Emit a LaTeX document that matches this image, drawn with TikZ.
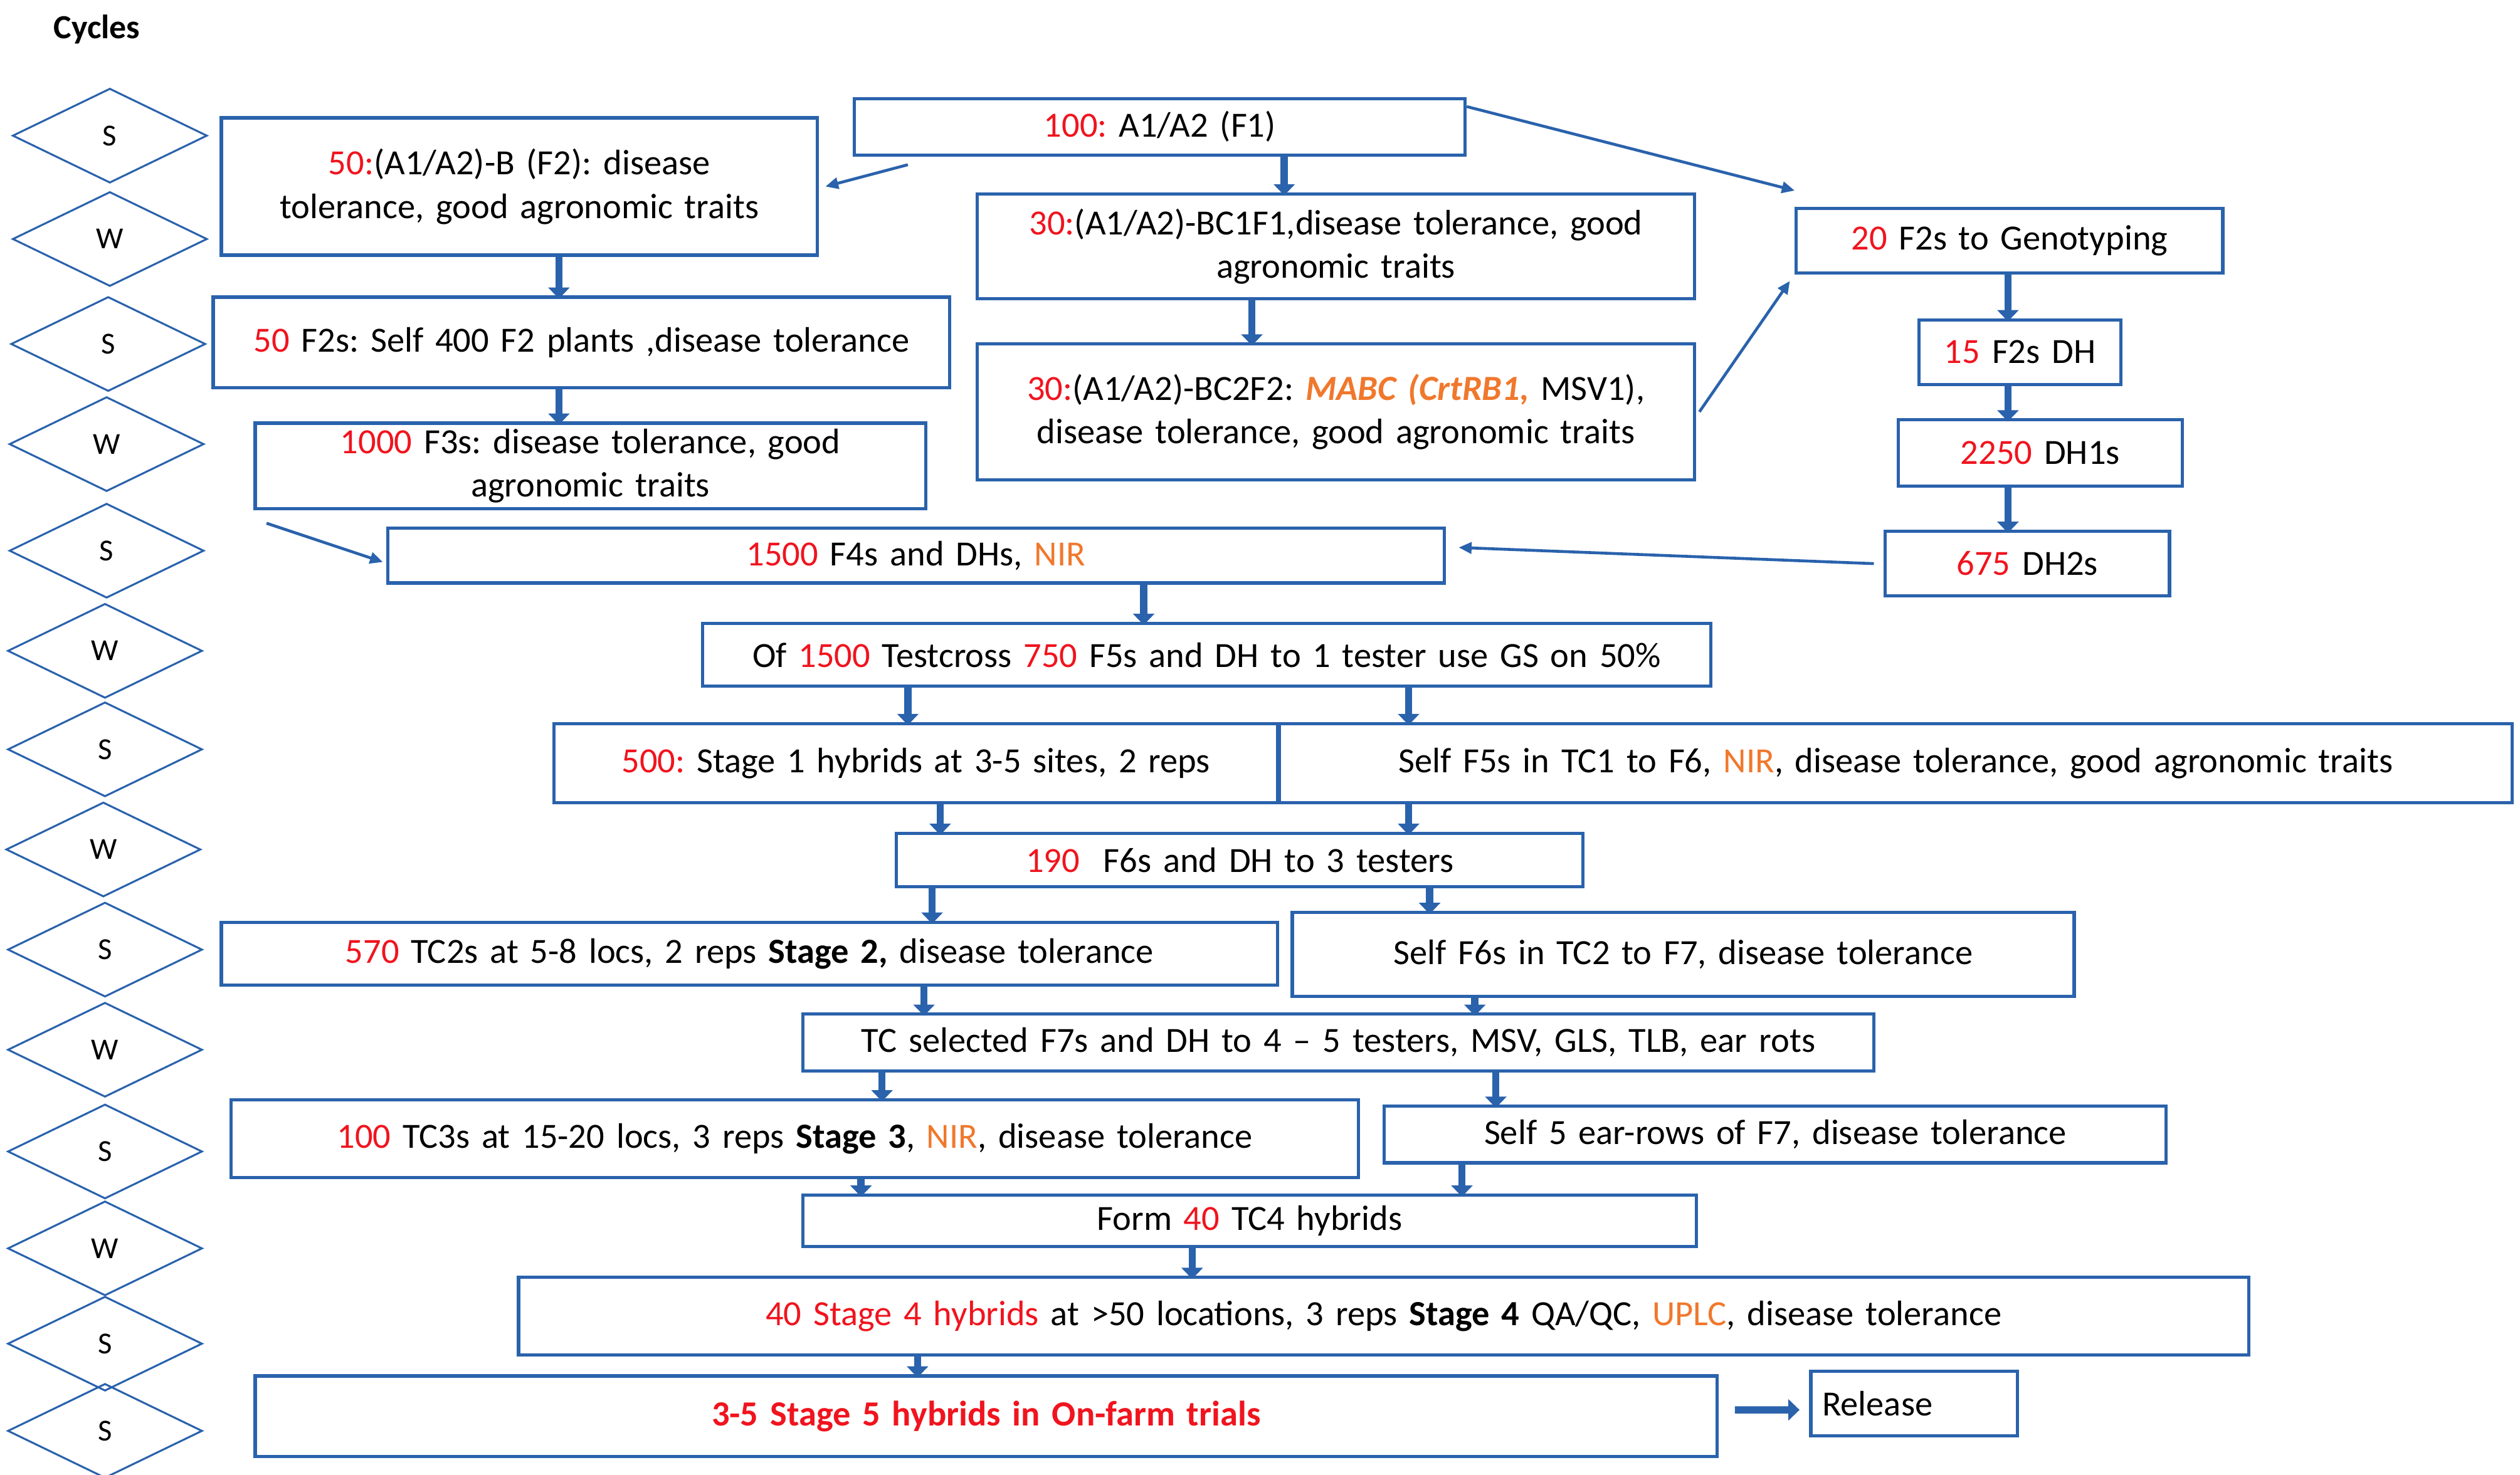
\documentclass[tikz,border=0pt]{standalone}
\usepackage{fontspec}
\setmainfont{Carlito}
\usetikzlibrary{arrows.meta,calc}
\definecolor{bl}{HTML}{2A62AC}
\definecolor{rd}{HTML}{F0141E}
\definecolor{og}{HTML}{F0782D}
\newcommand{\R}[1]{\textcolor{rd}{#1}}
\newcommand{\Or}[1]{\textcolor{og}{#1}}
\frenchspacing
\begin{document}
\begin{tikzpicture}[x=1bp,y=-1bp,
 font=\fontsize{22}{27}\selectfont,
 bx/.style={draw=bl,line width=2pt,anchor=north west,inner sep=0pt,align=center},
 dm/.style={draw=bl,line width=1.2pt},
 blk/.style={draw=bl,line width=4.5pt,-{Triangle[width=13pt,length=7pt]}},
 thin/.style={draw=bl,line width=1.8pt,-{Triangle[width=7pt,length=8pt]}}]
\useasboundingbox (0,0) rectangle (1560,913);
\newcommand{\B}[6]{\node[bx,minimum width=#4bp-#2bp,minimum height=#5bp-#3bp,text width=#4bp-#2bp-12bp] (#1) at (#2,#3) {#6};}
\node[font=\fontsize{21}{24}\selectfont\bfseries] (cyc) at (60,18) {Cycles};
% diamonds
\foreach \y/\l/\cx in {84/S/68,148/W/68,213/S/67,275/W/66,341/S/66,403/W/65,464/S/65,526/W/64,588/S/65,650/W/65,713/S/65,773/W/65,832/S/65,886/S/65}{
 \draw[dm] (\cx-60,\y) -- (\cx,\y-29) -- (\cx+60,\y) -- (\cx,\y+29) -- cycle;
 \node[font=\fontsize{19}{22}\selectfont] (d\y) at (\cx,\y) {\l};}
\B{A}{528}{60}{906}{95}{\R{100:} A1/A2 (F1)}
\B{B}{136}{72}{505}{157}{\R{50:}(A1/A2)-B (F2): disease\\tolerance, good agronomic traits}
\B{C}{604}{119}{1048}{184}{\R{30:}(A1/A2)-BC1F1,disease tolerance, good\\agronomic traits}
\B{D}{1111}{128}{1375}{168}{\R{20} F2s to Genotyping}
\B{E}{131}{183}{587}{239}{\R{50} F2s: Self 400 F2 plants ,disease tolerance}
\B{F}{604}{212}{1048}{296}{\R{30:}(A1/A2)-BC2F2: \Or{\textbf{\textit{MABC (CrtRB1,}}} MSV1),\\disease tolerance, good agronomic traits}
\B{G}{1187}{197}{1312}{237}{\R{15} F2s DH}
\B{H}{157}{261}{572}{314}{\R{1000} F3s: disease tolerance, good\\agronomic traits}
\B{I}{1174}{259}{1350}{300}{\R{2250} DH1s}
\B{J}{239}{326}{893}{360}{\R{1500} F4s and DHs, \Or{NIR}}
\B{K}{1166}{328}{1342}{368}{\R{675} DH2s}
\B{L}{434}{385}{1058}{424}{Of \R{1500} Testcross \R{750} F5s and DH to 1 tester use GS on 50\%}
\B{M}{342}{447}{790}{496}{\R{500:} Stage 1 hybrids at 3-5 sites, 2 reps}
\B{N}{791}{447}{1554}{496}{Self F5s in TC1 to F6, \Or{NIR}, disease tolerance, good agronomic traits}
\B{O}{554}{515}{979}{548}{\R{190}\ \ F6s and DH to 3 testers}
\B{P}{136}{570}{790}{609}{\R{570} TC2s at 5-8 locs, 2 reps \textbf{Stage 2,} disease tolerance}
\B{Q}{799}{564}{1283}{616}{Self F6s in TC2 to F7, disease tolerance}
\B{Rr}{496}{627}{1159}{662}{TC selected F7s and DH to 4 -- 5 testers, MSV, GLS, TLB, ear rots}
\B{S}{142}{680}{840}{728}{\R{100} TC3s at 15-20 locs, 3 reps \textbf{Stage 3}, \Or{NIR}, disease tolerance}
\B{T}{856}{684}{1340}{719}{Self 5 ear-rows of F7, disease tolerance}
\B{U}{496}{739}{1049}{771}{Form \R{40} TC4 hybrids}
\B{V}{320}{790}{1391}{838}{\R{40 Stage 4 hybrids} at >50 locations, 3 reps \textbf{Stage 4} QA/QC, \Or{UPLC}, disease tolerance}
\B{W}{157}{851}{1062}{901}{\R{\textbf{3-5 Stage 5 hybrids in On-farm trials}}}
\node[bx,minimum width=128bp,minimum height=40bp,text width=114bp,align=left] (X) at (1120,848) {Release};
% block arrows
\foreach \a/\b/\x in {B/E/346,E/H/346,A/C/795,C/F/775,D/G/1243,G/I/1243,I/K/1243,J/L/708,L/M/562,L/N/872,N/O/872,M/O/582,O/P/577,O/Q/885,P/Rr/572,Q/Rr/913,Rr/S/546,Rr/T/926,S/U/533,T/U/905,U/V/738,V/W/568}
 \draw[blk] ($(\a.south -| \x,0)+(0,-2)$) -- ($(\b.north -| \x,0)+(0,2)$);
\draw[blk] ($(W.east)+(10,-4)$) -- ($(X.west)+(-6,4)$);
% thin arrows
\draw[thin] ($(A.south west)+(34,5)$) -- ($(B.east)+(4,0)$);
\draw[thin] ($(A.north east)+(0,6)$) -- ($(D.north west)+(0,-10)$);
\draw[thin] ($(F.east)+(2,0)$) -- ($(D.south west)+(-3,4)$);
\draw[thin] ($(H.south west)+(8,8)$) -- ($(J.west)+(-2,4)$);
\draw[thin] ($(K.west)+(-6,0)$) -- ($(J.east)+(8,-5)$);
\end{tikzpicture}
\end{document}
